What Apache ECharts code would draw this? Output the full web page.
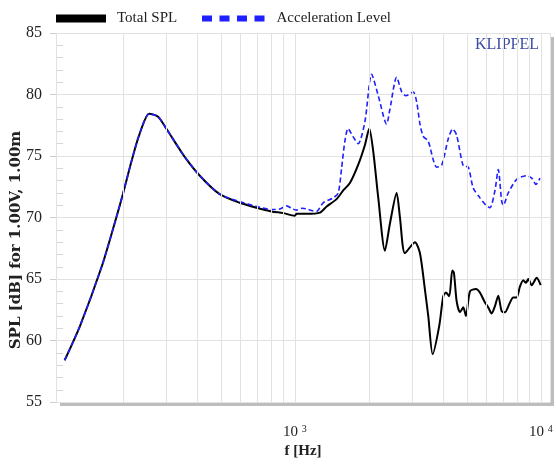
<!DOCTYPE html>
<html>
<head>
<meta charset="utf-8">
<script src="https://cdn.jsdelivr.net/npm/echarts@6/dist/echarts.min.js"></script>
<style>
  html, body { margin: 0; padding: 0; background: #fff; }
  #chart { width: 556px; height: 464px; }
</style>
</head>
<body>
<div id="chart"></div>
<script>
// Total SPL curve: frequency [Hz] and level [dB]
const freqTotal = [116, 134, 164, 185, 200, 217, 233, 256, 278, 301, 352, 411, 495, 597, 699, 804, 896, 1000, 1016, 1116, 1264, 1346, 1477, 1572, 1673, 1809, 1926, 2005, 2081, 2182, 2322, 2433, 2591, 2673, 2801, 3075, 3223, 3378, 3483, 3629, 3860, 4008, 4111, 4239, 4360, 4429, 4542, 4685, 4832, 4956, 5145, 5442, 5649, 5920, 6105, 6302, 6501, 6705, 6921, 7140, 7481, 7716, 7965, 8216, 8472, 8690, 8879, 9167, 9605, 9972];
const splTotal  = [58.4, 61.2, 66.0, 69.5, 71.9, 74.6, 76.7, 78.44, 78.2, 77.2, 75.1, 73.4, 71.9, 71.2, 70.8, 70.5, 70.36, 70.15, 70.3, 70.3, 70.4, 70.9, 71.5, 72.2, 72.8, 74.3, 75.9, 77.24, 75.4, 71.6, 67.3, 69.5, 72.0, 70.0, 67.1, 68.0, 67.1, 64.1, 62.0, 58.9, 61.2, 63.6, 63.9, 63.6, 65.7, 65.5, 63.2, 62.3, 62.7, 62.0, 64.0, 64.2, 63.9, 63.1, 62.7, 62.2, 62.8, 63.65, 62.4, 62.3, 63.1, 63.5, 63.5, 64.4, 64.9, 64.7, 65.0, 64.5, 65.1, 64.5];

// Acceleration level curve: frequency [Hz] and level [dB]
const freqAccel = [116, 134, 164, 185, 200, 217, 233, 256, 278, 301, 352, 411, 495, 597, 699, 804, 870, 925, 980, 1016, 1070, 1116, 1180, 1225, 1303, 1431, 1500, 1548, 1596, 1645, 1720, 1809, 1926, 2050, 2182, 2359, 2433, 2591, 2720, 2827, 3027, 3125, 3223, 3324, 3483, 3649, 3767, 3948, 4200, 4375, 4542, 4832, 5064, 5305, 5649, 5975, 6203, 6501, 6705, 6921, 7026, 7364, 7965, 8748, 9167, 9543, 9906];
const splAccel  = [58.4, 61.2, 66.0, 69.5, 71.9, 74.6, 76.7, 78.44, 78.2, 77.2, 75.1, 73.4, 71.9, 71.3, 70.9, 70.65, 70.7, 70.95, 70.7, 70.6, 70.75, 70.7, 70.55, 70.5, 71.2, 71.6, 72.0, 74.0, 76.2, 77.24, 76.6, 76.0, 77.8, 81.65, 79.9, 77.6, 78.8, 81.4, 80.2, 79.9, 80.2, 79.4, 77.6, 76.6, 76.2, 74.7, 74.1, 74.25, 76.4, 77.2, 76.7, 74.2, 74.1, 72.4, 71.6, 71.0, 70.8, 72.2, 73.9, 71.35, 71.0, 72.0, 73.1, 73.4, 73.2, 72.7, 73.2];

// Axis ranges and grid frequencies
const yMin = 55, yMax = 85, yStep = 5;
const xMin = 107, xMax = 10880;
const gridFreqs = [200, 300, 400, 500, 600, 700, 800, 900, 2000, 3000, 4000, 5000, 6000, 7000, 8000, 9000];

const serif = "'Liberation Serif', 'Times New Roman', serif";
const zip = (xs, ys) => xs.map((x, i) => [x, ys[i]]);

const chart = echarts.init(document.getElementById('chart'), null, { renderer: 'canvas' });

chart.setOption({
  animation: false,
  backgroundColor: '#ffffff',
  grid: {
    show: true,
    left: 56, right: 6, top: 33, bottom: 57,
    backgroundColor: '#ffffff',
    borderWidth: 0,
    shadowColor: '#bdbdbd',
    shadowOffsetX: 4,
    shadowOffsetY: 4,
    shadowBlur: 0
  },
  legend: [
    {
      data: ['Total SPL'],
      left: 56, top: 11, padding: 0,
      icon: 'rect', itemWidth: 50, itemHeight: 8,
      selectedMode: false,
      itemStyle: { borderWidth: 0 },
      textStyle: { fontFamily: serif, fontSize: 15, color: '#222', padding: [0, 0, 0, 6] }
    },
    {
      data: ['Acceleration Level'],
      left: 202, top: 11, padding: 0,
      icon: 'path://M0,0h10v6h-10zM17.5,0h10v6h-10zM35,0h10v6h-10zM52.5,0h10v6h-10z',
      itemWidth: 62.5, itemHeight: 6,
      selectedMode: false,
      itemStyle: { borderWidth: 0 },
      textStyle: { fontFamily: serif, fontSize: 15, color: '#222', padding: [0, 0, 0, 7] }
    }
  ],
  xAxis: {
    type: 'log',
    logBase: 10,
    min: xMin, max: xMax,
    name: 'f [Hz]',
    nameLocation: 'middle',
    nameGap: 38,
    nameTextStyle: { fontFamily: serif, fontSize: 15, fontWeight: 'bold', color: '#222' },
    axisLine: { show: false },
    axisTick: { show: false },
    splitLine: { show: true, lineStyle: { color: '#e2e2e2', width: 1 } },
    axisLabel: {
      margin: 22,
      fontFamily: serif, fontSize: 15, color: '#222',
      formatter: function (v) {
        const e = Math.log10(v);
        const r = Math.round(e);
        if (Math.abs(e - r) > 1e-6) return '';
        return '10 {sup|' + r + '}';
      },
      rich: {
        sup: { fontFamily: serif, fontSize: 10, color: '#222', verticalAlign: 'top' }
      }
    }
  },
  yAxis: [
    {
      type: 'value',
      min: yMin, max: yMax, interval: yStep,
      position: 'left',
      axisLine: { show: false },
      axisTick: { show: true, inside: false, length: 6, lineStyle: { color: '#cfcfcf' } },
      axisLabel: { margin: 14, fontFamily: serif, fontSize: 16, color: '#222' },
      splitLine: { show: true, lineStyle: { color: '#e2e2e2', width: 1 } }
    },
    {
      type: 'value',
      min: yMin, max: yMax, interval: yStep,
      position: 'left',
      axisLine: { show: false },
      axisTick: { show: false, inside: true },
      axisLabel: { show: false },
      splitLine: { show: false },
      minorTick: { show: true, splitNumber: 5, length: 7, lineStyle: { color: '#d6d6d6' } }
    }
  ],
  graphic: [
    {
      type: 'text',
      x: 16, y: 240,
      rotation: Math.PI / 2,
      style: {
        text: 'SPL [dB] for 1.00V, 1.00m',
        font: "bold 15px 'DejaVu Serif', serif",
        fill: '#222',
        textAlign: 'center',
        textVerticalAlign: 'middle'
      }
    },
    {
      type: 'text',
      x: 539, y: 45,
      style: {
        text: 'KLIPPEL',
        font: "16px 'Liberation Serif', serif",
        fill: '#3d4da3',
        textAlign: 'right',
        textVerticalAlign: 'middle'
      }
    }
  ],
  series: [
    {
      name: 'grid',
      type: 'line',
      data: [],
      z: 1,
      silent: true,
      markLine: {
        silent: true,
        symbol: 'none',
        label: { show: false },
        lineStyle: { color: '#e2e2e2', width: 1, type: 'solid' },
        emphasis: { disabled: true },
        data: gridFreqs.map(f => ({ xAxis: f }))
      }
    },
    {
      name: 'Total SPL',
      type: 'line',
      data: zip(freqTotal, splTotal),
      color: '#000000',
      showSymbol: false,
      symbol: 'none',
      smooth: 0.25,
      z: 3,
      lineStyle: { color: '#000000', width: 2 }
    },
    {
      name: 'Acceleration Level',
      type: 'line',
      data: zip(freqAccel, splAccel),
      color: '#1f1fff',
      showSymbol: false,
      symbol: 'none',
      smooth: 0.25,
      z: 4,
      lineStyle: { color: '#1f1fff', width: 1.6, type: [5, 3] }
    }
  ]
});
</script>
</body>
</html>
